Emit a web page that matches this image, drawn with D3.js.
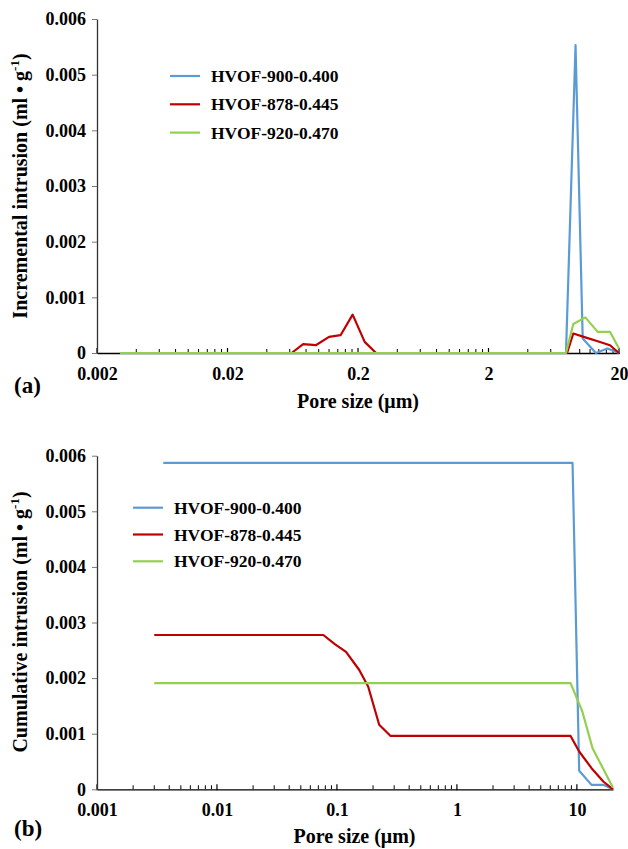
<!DOCTYPE html>
<html><head><meta charset="utf-8">
<script src="https://cdn.jsdelivr.net/npm/d3@7"></script>
<style>body{margin:0;background:#fff}svg{display:block}text{font-family:"Liberation Serif","Times New Roman",serif;font-weight:bold;fill:#000}</style>
</head><body>
<script>
// ---- Data ----
const seriesNames = ["HVOF-900-0.400", "HVOF-878-0.445", "HVOF-920-0.470"];
const seriesColors = ["#5b9bd5", "#c00000", "#92d050"];

// (a) Incremental intrusion
const incBlueX = [0.003, 7.85, 9.29, 10.54, 13.3, 16.3, 20];
const incBlueY = [0, 0, 0.00553, 0.00026, 0, 0.00008, 0];
const incRedX = [0.003, 0.062, 0.076, 0.095, 0.12, 0.147, 0.182, 0.225, 0.275, 8.0, 8.93, 11.04, 13.74, 17.06, 20];
const incRedY = [0, 0, 0.00016, 0.00014, 0.00029, 0.00032, 0.00069, 0.0002, 0, 0, 0.00035, 0.00028, 0.00021, 0.00014, 0];
const incGreenX = [0.003, 7.85, 8.93, 11.04, 13.74, 17.06, 20];
const incGreenY = [0, 0, 0.00052, 0.00064, 0.00038, 0.00038, 0.00008];

// (b) Cumulative intrusion
const cumBlueX = [0.00357, 9.2, 10.45, 13.25, 16.6, 20];
const cumBlueY = [0.00587, 0.00587, 0.000335, 0.00008, 0.00008, 0];
const cumRedX = [0.003, 0.077, 0.096, 0.119, 0.153, 0.182, 0.225, 0.28, 8.86, 10.45, 13.25, 16.6, 20];
const cumRedY = [0.002775, 0.002775, 0.00261, 0.00247, 0.00215, 0.00185, 0.00116, 0.00096, 0.00096, 0.00068, 0.00038, 0.00014, 0];
const cumGreenX = [0.003, 8.86, 11.1, 13.5, 20];
const cumGreenY = [0.00191, 0.00191, 0.0014, 0.00074, 0.00003];

const yTicks = [0, 0.001, 0.002, 0.003, 0.004, 0.005, 0.006];
const xTicksA = [0.002, 0.02, 0.2, 2, 20];
const xTickLabelsA = ["0.002", "0.02", "0.2", "2", "20"];
const xTicksB = [0.001, 0.01, 0.1, 1, 10];
const xTickLabelsB = ["0.001", "0.01", "0.1", "1", "10"];

const W = 628, H = 849;
const svg = d3.select("body").append("svg").attr("width", W).attr("height", H);
const FF = '"Liberation Serif","Times New Roman",serif';

function panel(cfg) {
  const g = svg.append("g");
  const x = d3.scaleLog().domain(cfg.xDomain).range([cfg.left, cfg.right]);
  const y = d3.scaleLinear().domain([0, 0.006]).range([cfg.bottom, cfg.top]);

  // minor ticks (inside, upward)
  const minor = [];
  let start = cfg.xDomain[0];
  while (start < cfg.xDomain[1] * 0.999) {
    for (let k = 2; k <= 9; k++) {
      const v = start * k;
      if (v < cfg.xDomain[1] * 0.999) minor.push(v);
    }
    start *= 10;
  }
  g.selectAll(".mt").data(minor).enter().append("line")
    .attr("x1", d => x(d)).attr("x2", d => x(d))
    .attr("y1", cfg.bottom).attr("y2", cfg.bottom - 4)
    .attr("stroke", "#000").attr("stroke-width", 1);

  // x axis
  const xa = d3.axisBottom(x).tickValues(cfg.xTicks).tickFormat((d, i) => cfg.xLabels[i]).tickSize(0).tickPadding(14);
  const xg = g.append("g").attr("transform", `translate(0,${cfg.bottom})`).call(xa);
  xg.select(".domain").attr("stroke", "#000").attr("stroke-width", 1.3);
  xg.selectAll("text").attr("font-size", 18).attr("font-family", FF).attr("font-weight", "bold");
  g.selectAll(".Mt").data(cfg.xTicks).enter().append("line")
    .attr("x1", d => x(d)).attr("x2", d => x(d))
    .attr("y1", cfg.bottom - 5).attr("y2", cfg.bottom + 1)
    .attr("stroke", "#000").attr("stroke-width", 1.2);

  // y axis
  const ya = d3.axisLeft(y).tickValues(yTicks).tickFormat(d => d === 0 ? "0" : d3.format(".3f")(d)).tickSizeOuter(0).tickSizeInner(5).tickPadding(6);
  const yg = g.append("g").attr("transform", `translate(${cfg.left},0)`).call(ya);
  yg.select(".domain").attr("stroke", "#333").attr("stroke-width", 1.3);
  yg.selectAll(".tick line").attr("stroke", "#777");
  yg.selectAll("text").attr("font-size", 18).attr("font-family", FF).attr("font-weight", "bold");

  // lines
  const line = d3.line().x(d => x(d[0])).y(d => y(d[1]));
  cfg.series.forEach(s => {
    const pts = s.xs.map((v, j) => [v, s.ys[j]]);
    g.append("path").datum(pts).attr("d", line).attr("fill", "none")
      .attr("stroke", seriesColors[s.c]).attr("stroke-width", 2.2).attr("stroke-linejoin", "round");
  });

  // legend
  seriesNames.forEach((n, i) => {
    const ly = cfg.legY + i * cfg.legStep;
    g.append("line").attr("x1", cfg.legX).attr("x2", cfg.legX + 30).attr("y1", ly).attr("y2", ly)
      .attr("stroke", seriesColors[i]).attr("stroke-width", 2.2);
    g.append("text").attr("x", cfg.legX + 41).attr("y", ly + 6).attr("font-size", 17.5).text(n);
  });

  // axis titles
  g.append("text").attr("x", cfg.xTitleX).attr("y", cfg.xTitleY)
    .attr("text-anchor", "middle").attr("font-size", 20).text("Pore size (μm)");
  const yt = g.append("text").attr("transform", `translate(27,${cfg.yTitleCY}) rotate(-90)`)
    .attr("text-anchor", "middle").attr("font-size", 20);
  yt.append("tspan").text(cfg.yTitle + " (ml • g");
  yt.append("tspan").attr("font-size", 13).attr("dy", -8).text("-1");
  yt.append("tspan").attr("dy", 8).text(")");

  g.append("text").attr("x", 14).attr("y", cfg.panelY).attr("font-size", 23).text(cfg.panel);
}

panel({
  xDomain: [0.002, 20], left: 97, right: 619, top: 19, bottom: 353,
  xTicks: xTicksA, xLabels: xTickLabelsA,
  series: [{xs: incBlueX, ys: incBlueY, c: 0}, {xs: incRedX, ys: incRedY, c: 1}, {xs: incGreenX, ys: incGreenY, c: 2}],
  legX: 170, legY: 76, legStep: 28.3, xTitleX: 358, xTitleY: 408, yTitleCY: 186, yTitle: "Incremental intrusion", panel: "(a)", panelY: 393
});

panel({
  xDomain: [0.001, 20], left: 97, right: 613, top: 455.7, bottom: 789.3,
  xTicks: xTicksB, xLabels: xTickLabelsB,
  series: [{xs: cumBlueX, ys: cumBlueY, c: 0}, {xs: cumRedX, ys: cumRedY, c: 1}, {xs: cumGreenX, ys: cumGreenY, c: 2}],
  legX: 133, legY: 507.7, legStep: 26.8, xTitleX: 354.5, xTitleY: 843, yTitleCY: 622, yTitle: "Cumulative intrusion", panel: "(b)", panelY: 836
});
</script>
</body></html>
